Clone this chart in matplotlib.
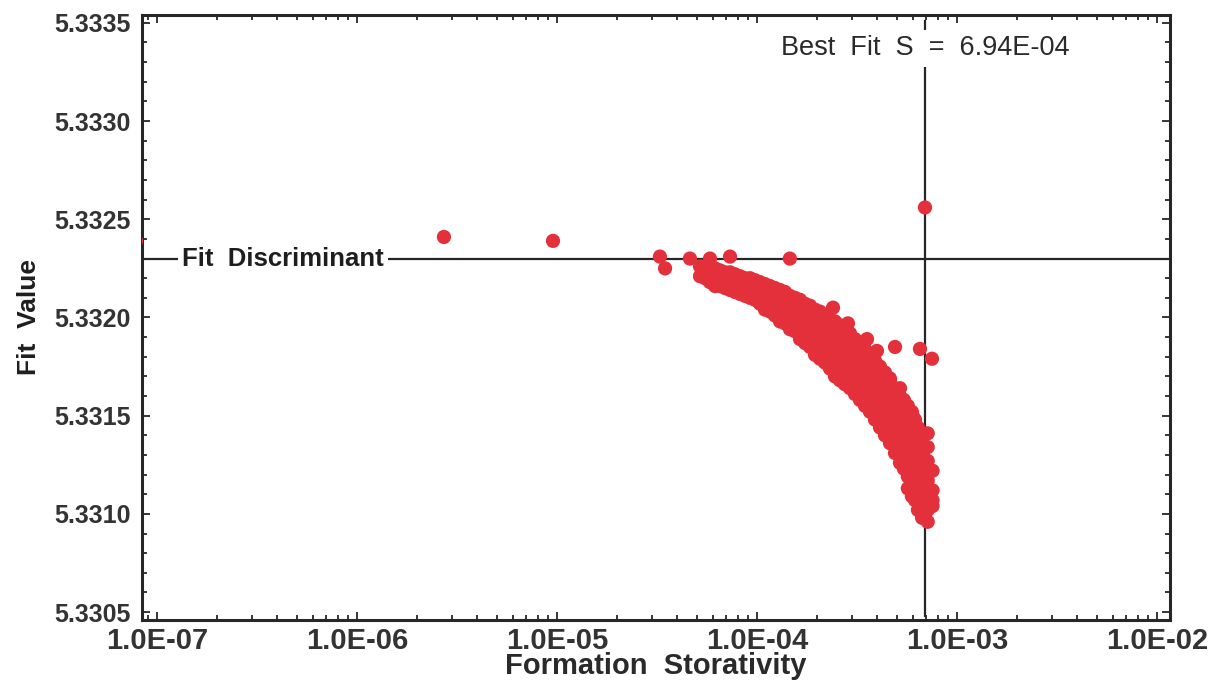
import numpy as np
import matplotlib
matplotlib.use("Agg")
import matplotlib.pyplot as plt
from matplotlib.ticker import FixedLocator, LogLocator, MultipleLocator, NullFormatter

plt.rcParams['font.family'] = ['Liberation Sans', 'DejaVu Sans']

# scattered runs away from the main band
outlier_s = [
    7.85e-8, 2.72e-6, 9.55e-6, 3.27e-5, 3.47e-5, 4.62e-5, 5.82e-5, 7.33e-5, 1.46e-4, 6.92e-4,
    2.40e-4, 2.85e-4, 3.55e-4, 3.98e-4, 4.90e-4, 6.53e-4, 7.50e-4, 4.62e-4, 5.19e-4,
    6.00e-4, 7.14e-4, 7.14e-4, 7.55e-4,
]
outlier_fit = [
    5.33239, 5.33241, 5.33239, 5.33231, 5.33225, 5.33230, 5.33230, 5.33231, 5.33230, 5.33256,
    5.33205, 5.33197, 5.33189, 5.33183, 5.33185, 5.33184, 5.33179, 5.33169, 5.33164,
    5.33150, 5.33141, 5.33134, 5.33107,
]

# main band: storativity column and the fit values found at it
band_s = [
    5.19e-5, 5.50e-5, 5.82e-5, 6.17e-5, 6.53e-5, 6.92e-5, 7.33e-5, 7.76e-5, 8.22e-5, 8.71e-5,
    9.23e-5, 9.77e-5, 1.035e-4, 1.096e-4, 1.161e-4, 1.23e-4, 1.303e-4, 1.38e-4, 1.462e-4,
    1.549e-4, 1.641e-4, 1.738e-4, 1.841e-4, 1.95e-4, 2.065e-4, 2.188e-4, 2.317e-4, 2.455e-4,
    2.600e-4, 2.754e-4, 2.917e-4, 3.09e-4, 3.273e-4, 3.467e-4, 3.673e-4, 3.89e-4, 4.121e-4,
    4.365e-4, 4.624e-4, 4.898e-4, 5.188e-4, 5.43e-4, 5.68e-4, 5.95e-4, 6.166e-4, 6.38e-4,
    6.69e-4, 6.92e-4, 7.14e-4, 7.55e-4,
]
band_fit = [
    [5.33226, 5.33221],
    [5.33225, 5.33220],
    [5.33226, 5.33222, 5.33218],
    [5.33225, 5.33220, 5.33216],
    [5.33224, 5.33220, 5.33216],
    [5.33223, 5.33219, 5.33215],
    [5.33223, 5.33219, 5.33214],
    [5.33222, 5.33217, 5.33213],
    [5.33221, 5.33217, 5.33212],
    [5.33220, 5.33216, 5.33211],
    [5.33220, 5.33215, 5.33210],
    [5.33219, 5.33214, 5.33209],
    [5.33218, 5.33214, 5.33210, 5.33207],
    [5.33217, 5.33213, 5.33208, 5.33204],
    [5.33216, 5.33212, 5.33207, 5.33203],
    [5.33215, 5.33210, 5.33206, 5.33201],
    [5.33214, 5.33210, 5.33206, 5.33202, 5.33198],
    [5.33213, 5.33209, 5.33205, 5.33200, 5.33197],
    [5.33211, 5.33207, 5.33203, 5.33199, 5.33194],
    [5.33210, 5.33206, 5.33202, 5.33198, 5.33193],
    [5.33209, 5.33205, 5.33201, 5.33196, 5.33192, 5.33189],
    [5.33207, 5.33203, 5.33199, 5.33195, 5.33191, 5.33187],
    [5.33206, 5.33202, 5.33197, 5.33193, 5.33189, 5.33185],
    [5.33204, 5.33200, 5.33196, 5.33192, 5.33188, 5.33184, 5.33181],
    [5.33203, 5.33198, 5.33194, 5.33190, 5.33186, 5.33182, 5.33179],
    [5.33201, 5.33197, 5.33193, 5.33189, 5.33185, 5.33181, 5.33177],
    [5.33199, 5.33195, 5.33191, 5.33187, 5.33183, 5.33179, 5.33174],
    [5.33198, 5.33194, 5.33190, 5.33186, 5.33182, 5.33178, 5.33174, 5.33170],
    [5.33196, 5.33192, 5.33188, 5.33183, 5.33179, 5.33175, 5.33171, 5.33168],
    [5.33194, 5.33189, 5.33185, 5.33180, 5.33176, 5.33171, 5.33166],
    [5.33192, 5.33187, 5.33183, 5.33178, 5.33173, 5.33169, 5.33164],
    [5.33189, 5.33185, 5.33180, 5.33176, 5.33171, 5.33167, 5.33161],
    [5.33187, 5.33182, 5.33178, 5.33173, 5.33168, 5.33164, 5.33158],
    [5.33184, 5.33180, 5.33175, 5.33171, 5.33166, 5.33161, 5.33155],
    [5.33181, 5.33177, 5.33172, 5.33167, 5.33163, 5.33158, 5.33152],
    [5.33178, 5.33173, 5.33168, 5.33163, 5.33158, 5.33153, 5.33148],
    [5.33175, 5.33170, 5.33165, 5.33160, 5.33155, 5.33150, 5.33144],
    [5.33172, 5.33167, 5.33161, 5.33156, 5.33151, 5.33146, 5.33140],
    [5.33168, 5.33163, 5.33158, 5.33153, 5.33148, 5.33142, 5.33136],
    [5.33164, 5.33159, 5.33154, 5.33149, 5.33143, 5.33137, 5.33131],
    [5.33160, 5.33155, 5.33150, 5.33145, 5.33139, 5.33133, 5.33126],
    [5.33158, 5.33153, 5.33147, 5.33142, 5.33136, 5.33129, 5.33123],
    [5.33155, 5.33150, 5.33144, 5.33137, 5.33131, 5.33125, 5.33119, 5.33113],
    [5.33152, 5.33146, 5.33140, 5.33133, 5.33127, 5.33121, 5.33115, 5.33109],
    [5.33148, 5.33142, 5.33136, 5.33129, 5.33123, 5.33117, 5.33111, 5.33107],
    [5.33144, 5.33136, 5.33130, 5.33122, 5.33115, 5.33108, 5.33102],
    [5.33139, 5.33132, 5.33120, 5.33112, 5.33104, 5.33098],
    [5.33134, 5.33126, 5.33117, 5.33107, 5.33100],
    [5.33127, 5.33117, 5.33110, 5.33102, 5.33096],
    [5.33122, 5.33112, 5.33104],
]

best_fit_s = 6.94e-4
fit_discriminant = 5.3323

x_ticks = [1e-7, 1e-6, 1e-5, 1e-4, 1e-3, 1e-2]
x_tick_labels = ["1.0E-07", "1.0E-06", "1.0E-05", "1.0E-04", "1.0E-03", "1.0E-02"]
y_ticks = [5.3305, 5.3310, 5.3315, 5.3320, 5.3325, 5.3330, 5.3335]
y_tick_labels = ["5.3305", "5.3310", "5.3315", "5.3320", "5.3325", "5.3330", "5.3335"]

storativity = list(outlier_s)
fit_value = list(outlier_fit)
for s, col in zip(band_s, band_fit):
    storativity += [s] * len(col)
    fit_value += col

ink = "#262626"
narrow = ['Liberation Sans Narrow', 'Liberation Sans', 'DejaVu Sans']

fig = plt.figure(figsize=(12.11, 6.81), dpi=100)
ax = fig.add_axes([0.1173, 0.0896, 0.8488, 0.8884])

ax.scatter(storativity, fit_value, s=105, color="#e4303b", edgecolors="none", zorder=3)

ax.set_xscale("log")
ax.set_xlim(10 ** -7.075, 10 ** -1.935)
ax.set_ylim(5.33046, 5.33354)

# best-fit marker and discriminant line
ax.plot([best_fit_s, best_fit_s], [5.33351, 5.33048], color=ink, lw=1.6, zorder=2)
ax.axhline(fit_discriminant, color=ink, lw=1.6, zorder=2)
ax.text(best_fit_s, 5.33337, f"Best  Fit  S  =  {best_fit_s:.2E}",
        ha="center", va="center", fontsize=19.5, color="#2a2a2a", zorder=4,
        bbox=dict(facecolor="white", edgecolor="none", pad=4))
ax.text(1.33e-7, fit_discriminant, "Fit  Discriminant", ha="left", va="center",
        fontsize=18.5, fontweight="bold", color="#1e1e1e", zorder=4,
        bbox=dict(facecolor="white", edgecolor="none", pad=3))

ax.xaxis.set_major_locator(FixedLocator(x_ticks))
ax.set_xticklabels(x_tick_labels, family=narrow, fontsize=21, fontweight="bold", color="#333333")
ax.xaxis.set_minor_locator(LogLocator(base=10, subs=np.arange(2, 10), numticks=20))
ax.xaxis.set_minor_formatter(NullFormatter())

ax.yaxis.set_major_locator(FixedLocator(y_ticks))
ax.set_yticklabels(y_tick_labels, fontsize=18, fontweight="bold", color="#333333")
ax.yaxis.set_minor_locator(MultipleLocator(0.0001))

ax.tick_params(which="both", direction="in", top=True, right=True, color=ink, width=1.3)
ax.tick_params(which="major", length=6)
ax.tick_params(which="minor", length=3.5)
ax.tick_params(axis="x", pad=5)
ax.tick_params(axis="y", pad=8)

for sp in ax.spines.values():
    sp.set_linewidth(2.2)
    sp.set_color(ink)

ax.set_xlabel("Formation  Storativity", family=narrow, fontsize=21, fontweight="bold",
              color="#2a2a2a", labelpad=-2)
ax.set_ylabel("Fit  Value", fontsize=19, fontweight="bold", color="#1e1e1e", labelpad=10)

fig.savefig("out.png", dpi=100, facecolor="white")
